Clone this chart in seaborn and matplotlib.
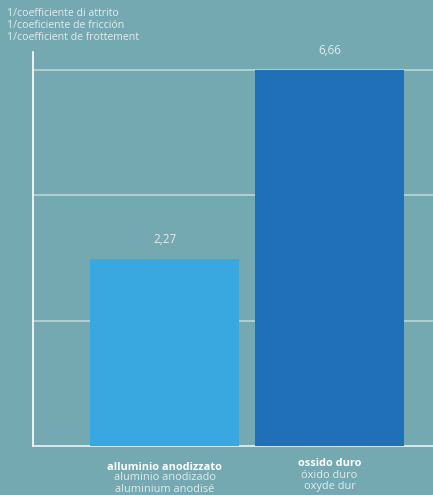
import numpy as np
import pandas as pd
import matplotlib
matplotlib.use("Agg")
import matplotlib.pyplot as plt
import matplotlib.transforms as mtransforms
import seaborn as sns

# ---- data ----
categories = ["alluminio anodizzato", "ossido duro"]
values = [2.27, 6.66]
value_labels = ["2,27", "6,66"]
sub_labels_es = ["aluminio anodizado", "óxido duro"]
sub_labels_fr = ["aluminium anodisé", "oxyde dur"]
axis_title = ["1/coefficiente di attrito", "1/coeficiente de fricción", "1/coefficient de frottement"]
bar_colors = ["#3aa8e0", "#1f70b8"]

BG = "#74a9b1"
TXT = "#e3ecee"
GRID = "#c3d9dc"

sns.set_theme(style="white")
plt.rcParams["font.family"] = ["Open Sans", "DejaVu Sans"]

df = pd.DataFrame({"cat": categories, "val": values})

fig = plt.figure(figsize=(4.33, 4.95), dpi=100)
fig.patch.set_facecolor(BG)
ax = fig.add_axes([33 / 433, 49 / 495, 400 / 433, 394 / 495])
ax.set_facecolor(BG)

# the infographic draws bars on a compressed (power) scale
p = np.log(187 / 376) / np.log(values[0] / values[1])
fwd = lambda y: np.power(np.clip(y, 0, None), p)
inv = lambda y: np.power(np.clip(y, 0, None), 1 / p)
ax.set_yscale("function", functions=(fwd, inv))

sns.barplot(data=df, x="cat", y="val", hue="cat", palette=bar_colors,
            width=0.903, saturation=1, legend=False, ax=ax, zorder=3,
            linewidth=0, edgecolor="none")

vmax = max(values)
ticks = [vmax * (k / 3) ** (1 / p) for k in range(1, 4)]
ax.set_yticks(ticks)
ax.set_yticklabels([])
ax.tick_params(left=False, bottom=False, labelbottom=False)
ax.set_ylim(0, vmax * (394 / 376) ** (1 / p))
ax.set_xlim(-0.797, 1.627)
ax.yaxis.grid(True, color=GRID, linewidth=1.1, zorder=0)
ax.set_axisbelow(True)
ax.set_xlabel("")
ax.set_ylabel("")

for s in ["top", "right"]:
    ax.spines[s].set_visible(False)
ax.spines["left"].set_color("white")
ax.spines["left"].set_linewidth(1.2)
ax.spines["bottom"].set_color("#eef4f5")
ax.spines["bottom"].set_linewidth(1.2)

for bar_cont in ax.containers:
    for rect in bar_cont:
        xc = rect.get_x() + rect.get_width() / 2
        i = int(round(xc))
        ax.annotate(value_labels[i], (xc, rect.get_height()),
                    xytext=(0, 9.5), textcoords="offset points", ha="center", va="bottom",
                    fontsize=8.4, color=TXT)

trans = mtransforms.blended_transform_factory(ax.transData, fig.transFigure)
label_y = [(467, 478, 489), (463, 476, 487)]
for i, cat in enumerate(categories):
    y1, y2, y3 = label_y[i]
    ax.text(i, 1 - y1 / 495, cat, transform=trans, ha="center", va="center", fontsize=7.9,
            fontweight="bold", color="white")
    ax.text(i, 1 - y2 / 495, sub_labels_es[i], transform=trans, ha="center", va="center",
            fontsize=7.9, color=TXT)
    ax.text(i, 1 - y3 / 495, sub_labels_fr[i], transform=trans, ha="center", va="center",
            fontsize=7.9, color=TXT)

for k, line in enumerate(axis_title):
    fig.text(7 / 433, 1 - (13 + 12.3 * k) / 495, line, ha="left", va="center",
             fontsize=7.6, color=TXT)

fig.savefig("out.png", dpi=100, facecolor=BG)
